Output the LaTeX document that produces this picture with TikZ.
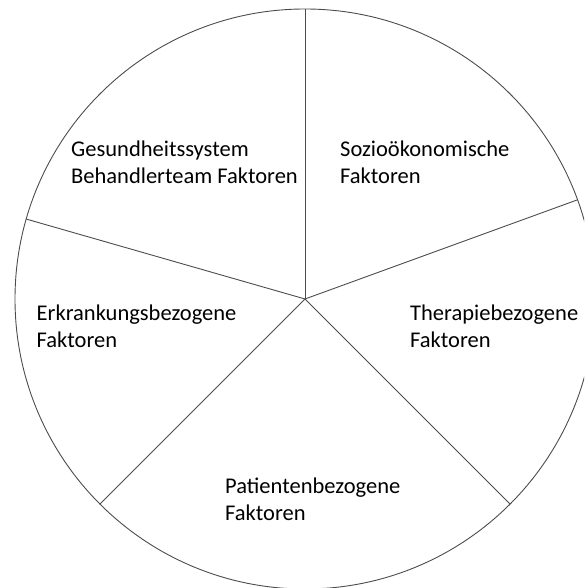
\documentclass[tikz,border=0pt]{standalone}
\usepackage{fontspec}
\setmainfont{Carlito}
\usetikzlibrary{calc}

\begin{document}
\begin{tikzpicture}[
		x=1pt, y=1pt,
		rim/.style={draw=black!70, line width=0.9pt},
		factor/.style={anchor=north west, align=left, inner sep=0pt, font=\fontsize{22.5}{27}\selectfont}
		]
		
		% Frame
		\useasboundingbox (0,0) rectangle (584,588);
		\clip (0,0) rectangle (584,588);
		
		% -------------------------
		% Circle and sectors
		% -------------------------
		\coordinate (M) at (305,289);
		\draw[rim] (M) circle (290pt);
		\foreach \a in {90,20,-45,-135,164}
		\draw[rim] (M) -- ++(\a:290pt);
		
		% -------------------------
		% Labels
		% -------------------------
		\node[factor] (ges) at (71,447) {Gesundheitssystem\\Behandlerteam Faktoren};
		\node[factor] (soz) at (340,447) {Sozioökonomische\\Faktoren};
		\node[factor] (erk) at (36.5,283.5) {Erkrankungsbezogene\\Faktoren};
		\node[factor] (ther) at (410,283.5) {Therapiebezogene\\Faktoren};
		\node[factor] (pat) at (225,110) {Patientenbezogene\\Faktoren};
		
	\end{tikzpicture}
\end{document}
